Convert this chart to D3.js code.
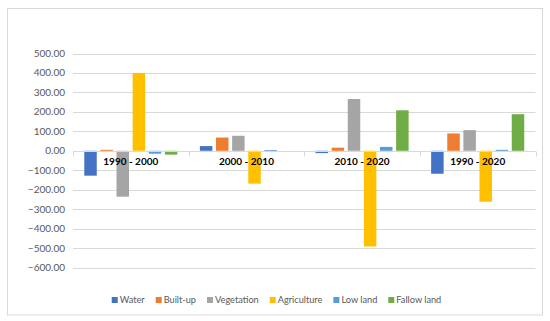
<!DOCTYPE html>
<html>
<head>
<meta charset="utf-8">
<script src="https://cdn.jsdelivr.net/npm/d3@7"></script>
<style>
  body { margin: 0; background: #fff; }
  text { font-family: Lato, "Open Sans", sans-serif; }
</style>
</head>
<body>
<svg id="chart"></svg>
<script>
const width = 550, height = 321;

const periods = ["1990 - 2000", "2000 - 2010", "2010 - 2020", "1990 - 2020"];
const classes = ["Water", "Built-up", "Vegetation", "Agriculture", "Low land", "Fallow land"];
const colors = ["#4472C4", "#ED7D31", "#A5A5A5", "#FFC000", "#5B9BD5", "#70AD47"];

// change per class, one array per period
const water       = [-128, 24, -12, -118];
const builtUp     = [5, 68, 16, 89];
const vegetation  = [-236, 77, 266, 106];
const agriculture = [400, -169, -492, -262];
const lowLand     = [-15, 3, 20, 5];
const fallowLand  = [-20, 0, 208, 188];

const yTicks = [500, 400, 300, 200, 100, 0, -100, -200, -300, -400, -500, -600];

const series = [water, builtUp, vegetation, agriculture, lowLand, fallowLand];

const svg = d3.select("#chart").attr("width", width).attr("height", height);

// outer frame
svg.append("rect")
    .attr("x", 7.5).attr("y", 8.5)
    .attr("width", 535).attr("height", 306.5)
    .attr("fill", "none").attr("stroke", "#d9d9d9");

const plot = { left: 73, right: 535.5, top: 53.5, bottom: 267.5 };

const y = d3.scaleLinear().domain([-600, 500]).range([plot.bottom, plot.top]);
const x0 = d3.scaleBand().domain(periods).range([plot.left, plot.right]);
const x1 = d3.scaleBand().domain(classes)
    .range([x0.bandwidth() * 0.0975, x0.bandwidth() * 0.9025])
    .paddingInner(0.226);

// gridlines
svg.append("g").selectAll("line").data(yTicks).enter().append("line")
    .attr("x1", plot.left).attr("x2", plot.right)
    .attr("y1", d => Math.round(y(d)) + 0.5).attr("y2", d => Math.round(y(d)) + 0.5)
    .attr("stroke", "#d9d9d9").attr("stroke-width", 1);

// y labels
svg.append("g").selectAll("text").data(yTicks).enter().append("text")
    .attr("x", 65).attr("y", d => y(d))
    .attr("dy", "0.35em")
    .attr("text-anchor", "end")
    .attr("font-size", 10)
    .attr("fill", "#595959")
    .text(d => d3.format(".2f")(d));

// bars
const groups = svg.append("g").selectAll("g").data(periods).enter().append("g")
    .attr("transform", d => `translate(${x0(d)},0)`);

groups.selectAll("rect")
    .data((p, i) => classes.map((c, k) => ({ c, v: series[k][i], color: colors[k] })))
    .enter().append("rect")
    .attr("x", d => x1(d.c))
    .attr("width", x1.bandwidth())
    .attr("y", d => y(Math.max(0, d.v)))
    .attr("height", d => Math.max(Math.abs(y(d.v) - y(0)), d.v === 0 ? 0 : 1))
    .attr("fill", d => d.color);

// zero axis with category ticks
const y0 = Math.round(y(0)) + 0.5;
svg.append("line")
    .attr("x1", plot.left).attr("x2", plot.right)
    .attr("y1", y0).attr("y2", y0)
    .attr("stroke", "#d9d9d9");
svg.append("g").selectAll("line").data(d3.range(periods.length + 1)).enter().append("line")
    .attr("x1", i => Math.round(plot.left + i * x0.step()) + 0.5)
    .attr("x2", i => Math.round(plot.left + i * x0.step()) + 0.5)
    .attr("y1", y0).attr("y2", y0 + 5)
    .attr("stroke", "#d9d9d9");

// category labels
svg.append("g").selectAll("text").data(periods).enter().append("text")
    .attr("x", d => x0(d) + x0.bandwidth() / 2)
    .attr("y", y0 + 13)
    .attr("text-anchor", "middle")
    .attr("font-size", 10)
    .attr("font-weight", "bold")
    .attr("fill", "#000")
    .text(d => d);

// legend
const legend = svg.append("g");
let lx = 0;
classes.forEach((c, k) => {
    const item = legend.append("g").attr("transform", `translate(${lx},0)`);
    item.append("rect").attr("x", 0).attr("y", -3).attr("width", 6).attr("height", 6)
        .attr("fill", colors[k]);
    const t = item.append("text").attr("x", 8).attr("y", 0).attr("dy", "0.35em")
        .attr("font-size", 9.2).attr("fill", "#595959").text(c);
    lx += 8 + t.node().getComputedTextLength() + 11;
});
const legendWidth = lx - 11;
legend.attr("transform", `translate(${276.5 - legendWidth / 2},300)`);
</script>
</body>
</html>
